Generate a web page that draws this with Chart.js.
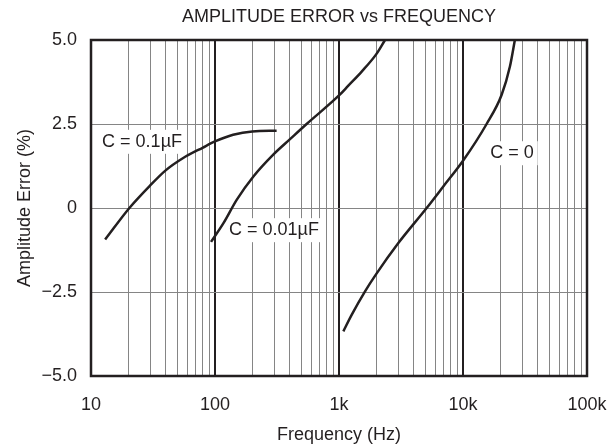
<!DOCTYPE html>
<html>
<head>
<meta charset="utf-8">
<script src="https://cdn.jsdelivr.net/npm/chart.js@4.4.0/dist/chart.umd.min.js"></script>
<style>
  body { margin: 0; background: #fff; }
  #wrap { width: 611px; height: 444px; }
</style>
</head>
<body>
<div id="wrap"><canvas id="myChart"></canvas></div>
<script>
// curves: frequency (Hz) / amplitude error (%)
const c01Freq = [13.0, 20.4, 30, 40, 55, 80, 100, 140, 200, 314];
const c01Err = [-0.94, 0, 0.67, 1.12, 1.48, 1.8, 1.98, 2.18, 2.28, 2.3];

const c001Freq = [92.9, 117, 150, 204, 295, 403, 548, 1000, 1189, 1524, 2000, 2350];
const c001Err = [-1.01, -0.45, 0.25, 0.94, 1.59, 2.05, 2.5, 3.35, 3.64, 4.06, 4.58, 5.0];

const c0Freq = [1084, 1265, 1622, 2000, 3000, 5092, 6934, 10070, 15500, 20500, 23900, 26200];
const c0Err = [-3.67, -3.18, -2.48, -1.96, -1.05, 0, 0.64, 1.42, 2.5, 3.37, 4.21, 5.0];

// axes
const xDecades = [10, 100, 1000, 10000, 100000];
const xTickLabels = ["10", "100", "1k", "10k", "100k"];
const yTicks = [-5, -2.5, 0, 2.5, 5];
const yTickLabels = ["\u22125.0", "\u22122.5", "0", "2.5", "5.0"];

// curve labels (freq, error)
const curveLabels = [
  { text: "C = 0.1\u00b5F", x: 25.8, y: 1.97 },
  { text: "C = 0.01\u00b5F", x: 299, y: -0.66 },
  { text: "C = 0", x: 24800, y: 1.63 },
];

const FONT = "'Liberation Sans', Arial, sans-serif";
const TXT = "#231f20";

// grid at 1..9 of every decade
const xGrid = [];
for (let d = 0; d < xDecades.length - 1; d++) {
  for (let m = 1; m < 10; m++) xGrid.push(xDecades[d] * m);
}
xGrid.push(xDecades[xDecades.length - 1]);

function pts(fs, es) {
  return fs.map((f, i) => ({ x: f, y: es[i] }));
}

function isDecade(v) {
  const l = Math.log10(v);
  return Math.abs(l - Math.round(l)) < 1e-9;
}

const curveStyle = {
  showLine: true,
  borderColor: "#231f20",
  borderWidth: 2.5,
  pointRadius: 0,
  cubicInterpolationMode: "monotone",
  fill: false,
};

const labelPlugin = {
  id: "curveLabels",
  beforeDatasetsDraw(chart) {
    const { ctx, scales } = chart;
    ctx.save();
    ctx.font = "18px " + FONT;
    ctx.textAlign = "center";
    ctx.textBaseline = "middle";
    curveLabels.forEach((l) => {
      const px = scales.x.getPixelForValue(l.x);
      const py = scales.y.getPixelForValue(l.y);
      const w = ctx.measureText(l.text).width;
      ctx.fillStyle = "#fff";
      ctx.fillRect(px - w / 2 - 4, py - 12, w + 8, 24);
      ctx.fillStyle = TXT;
      ctx.fillText(l.text, px, py);
    });
    ctx.restore();
  },
  afterDatasetsDraw(chart) {
    const { ctx, chartArea: a } = chart;
    ctx.save();
    ctx.strokeStyle = "#231f20";
    ctx.lineWidth = 2.5;
    ctx.strokeRect(a.left, a.top, a.right - a.left, a.bottom - a.top);
    ctx.restore();
  },
};

const ctx = document.getElementById("myChart").getContext("2d");

const myChart = new Chart(ctx, {
  type: "scatter",
  data: {
    datasets: [
      { label: "C = 0.1uF", data: pts(c01Freq, c01Err), ...curveStyle },
      { label: "C = 0.01uF", data: pts(c001Freq, c001Err), ...curveStyle },
      { label: "C = 0", data: pts(c0Freq, c0Err), ...curveStyle },
    ],
  },
  options: {
    responsive: true,
    maintainAspectRatio: false,
    animation: false,
    layout: { padding: { left: 0, right: 24, top: 0, bottom: 0 } },
    plugins: {
      legend: { display: false },
      tooltip: { enabled: false },
      title: {
        display: true,
        text: "AMPLITUDE ERROR vs FREQUENCY",
        fullSize: false,
        color: TXT,
        font: { family: FONT, size: 18, weight: "normal" },
        padding: { top: 6, bottom: 12.4 },
      },
    },
    scales: {
      x: {
        type: "logarithmic",
        min: 10,
        max: 100000,
        afterBuildTicks: (scale) => {
          scale.ticks = xGrid.map((v) => ({ value: v }));
        },
        afterFit: (scale) => {
          scale.height = 68;
          scale.paddingLeft = 0;
          scale.paddingRight = 0;
        },
        ticks: {
          autoSkip: false,
          maxRotation: 0,
          padding: 18,
          color: TXT,
          font: { family: FONT, size: 18 },
          callback: (v) => {
            const i = xDecades.indexOf(v);
            return i >= 0 ? xTickLabels[i] : "";
          },
        },
        grid: {
          drawTicks: false,
          color: (c) => (c.tick && isDecade(c.tick.value) ? "#231f20" : "#858585"),
          lineWidth: (c) => (c.tick && isDecade(c.tick.value) ? 2 : 1),
        },
        border: { display: false },
        title: {
          display: true,
          text: "Frequency (Hz)",
          color: TXT,
          font: { family: FONT, size: 18 },
          padding: { top: 0, bottom: -2 },
        },
      },
      y: {
        type: "linear",
        min: -5,
        max: 5,
        afterBuildTicks: (scale) => {
          scale.ticks = yTicks.map((v) => ({ value: v }));
        },
        afterFit: (scale) => {
          scale.width = 91;
        },
        ticks: {
          padding: 14,
          color: TXT,
          font: { family: FONT, size: 18 },
          callback: (v) => {
            const i = yTicks.indexOf(v);
            return i >= 0 ? yTickLabels[i] : "";
          },
        },
        grid: {
          drawTicks: false,
          color: "#858585",
          lineWidth: 1,
        },
        border: { display: false },
        title: {
          display: true,
          text: "Amplitude Error (%)",
          color: TXT,
          font: { family: FONT, size: 18 },
          padding: { top: 14 },
        },
      },
    },
  },
  plugins: [labelPlugin],
});
</script>
</body>
</html>
